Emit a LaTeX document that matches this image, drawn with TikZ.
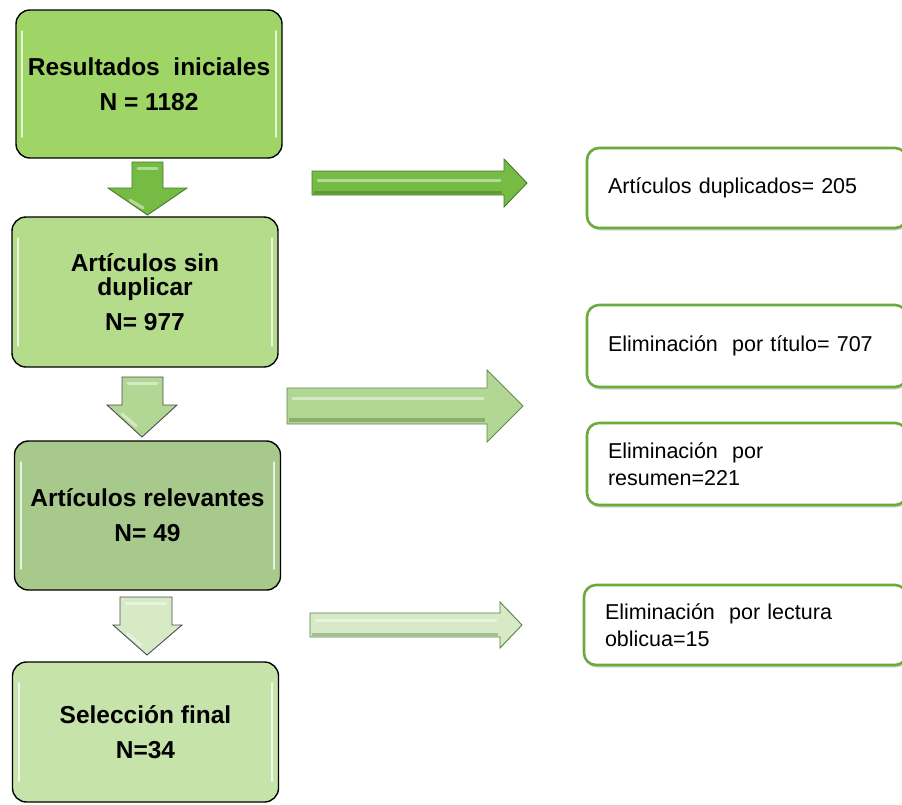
\documentclass[tikz,border=0pt]{standalone}
\usepackage{fontspec}
\setmainfont{Liberation Sans}
\usetikzlibrary{shadows}

\definecolor{verdeA}{RGB}{158,213,102}
\definecolor{verdeB}{RGB}{181,220,138}
\definecolor{verdeC}{RGB}{168,201,140}
\definecolor{verdeD}{RGB}{198,228,170}
\definecolor{borde}{RGB}{106,171,62}
\definecolor{flechaA}{RGB}{118,188,68}
\definecolor{flechaB}{RGB}{178,215,148}
\definecolor{flechaC}{RGB}{214,234,198}
\definecolor{bordeA}{RGB}{72,122,42}
\definecolor{bordeB}{RGB}{96,136,76}
\definecolor{bordeC}{RGB}{88,128,68}

\tikzset{
  etapa/.style={draw=black, line width=1.4pt, rounded corners=14pt,
    minimum width=266pt, align=center,
    font=\fontsize{24.5}{24}\selectfont\bfseries},
  resultado/.style={draw=borde, fill=white, line width=2.6pt, rounded corners=12pt,
    minimum height=80pt, text width=278pt, inner xsep=21pt, align=left,
    font=\fontsize{21.5}{27}\selectfont,
    drop shadow={shadow xshift=1pt, shadow yshift=-2.5pt, opacity=0.35}},
  flecha/.style={line width=0.9pt, line join=miter},
  brillo/.style={white, line width=3pt, opacity=.45, line cap=round}
}

\begin{document}
\begin{tikzpicture}[x=1pt,y=-1pt]
\useasboundingbox (0,0) rectangle (902,804);

% etapas de la izquierda
\node[etapa, fill=verdeA, minimum height=148pt] (b1) at (149,84)
  {Resultados\ \ iniciales\\[11pt]N = 1182};
\node[etapa, fill=verdeB, minimum height=150pt] (b2) at (145,292)
  {Artículos sin\\duplicar\\[11pt]N= 977};
\node[etapa, fill=verdeC, minimum height=149pt] (b3) at (147.5,515.5)
  {Artículos relevantes\\[11pt]N= 49};
\node[etapa, fill=verdeD, minimum height=140pt] (b4) at (145.5,732)
  {Selección final\\[11pt]N=34};

\foreach \b in {b1,b2,b3,b4} {
\draw[white, line width=2.2pt, opacity=.75, line cap=round]
  ([xshift=7pt,yshift=-22pt]\b.north west) -- ([xshift=7pt,yshift=22pt]\b.south west);
\draw[white, line width=2.2pt, opacity=.75, line cap=round]
  ([xshift=-7pt,yshift=-22pt]\b.north east) -- ([xshift=-7pt,yshift=22pt]\b.south east);}

% flechas hacia abajo
\draw[flecha, draw=bordeA, fill=flechaA]
  (132,162) -- (163,162) -- (163,188) -- (187,188) -- (147.5,215) -- (108,188) -- (132,188) -- cycle;
\draw[flecha, draw=black!70, fill=flechaB]
  (122,377) -- (163,377) -- (163,405) -- (177,405) -- (142,437) -- (107,405) -- (122,405) -- cycle;
\draw[flecha, draw=black!70, fill=flechaC]
  (120,597) -- (172,597) -- (172,625) -- (182,625) -- (147,655) -- (113,625) -- (120,625) -- cycle;
\draw[brillo] (138,168) -- (157,168);
\draw[brillo] (128,383) -- (157,383);
\draw[brillo] (126,603) -- (166,603);
\draw[brillo] (130,200) -- (143,208);
\draw[brillo] (122,414) -- (136,426);
\draw[brillo] (128,634) -- (141,645);

% flechas hacia la derecha
\draw[flecha, draw=bordeA, fill=flechaA]
  (312,171) -- (504,171) -- (504,159) -- (527,183) -- (504,207) -- (504,195) -- (312,195) -- cycle;
\draw[flecha, draw=bordeB, fill=flechaB]
  (287,388) -- (487,388) -- (487,370) -- (523,406) -- (487,442) -- (487,424) -- (287,424) -- cycle;
\draw[flecha, draw=bordeC, fill=flechaC]
  (310,613) -- (500,613) -- (500,602) -- (522,625) -- (500,648) -- (500,637) -- (310,637) -- cycle;
\draw[brillo] (318,180) -- (500,180);
\draw[brillo] (293,398) -- (483,398);
\draw[brillo] (316,620) -- (496,620);
\draw[bordeA, line width=3pt, opacity=.5] (314,192) -- (502,192);
\draw[bordeB, line width=4pt, opacity=.5] (289,420) -- (485,420);
\draw[bordeC, line width=3pt, opacity=.4] (312,634) -- (498,634);

% resultados de la derecha
\node[resultado] (r1) at (747,188) {Artículos duplicados=\ 205};
\node[resultado, minimum height=82pt] (r2) at (747,346) {Eliminación\ \ por título=\ 707};
\node[resultado, minimum height=82pt] (r3) at (747,464) {Eliminación\ \ por\\resumen=221};
\node[resultado, text width=281pt] (r4) at (745.5,625) {Eliminación\ \ por lectura\\oblicua=15};
\end{tikzpicture}
\end{document}
